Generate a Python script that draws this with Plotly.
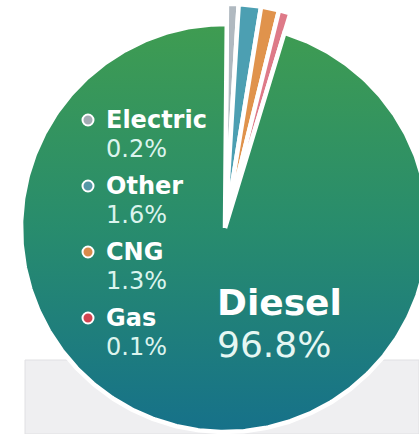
import numpy as np
import plotly.graph_objects as go

# ---- data ----
labels = ["Electric", "Other", "CNG", "Gas", "Diesel"]
values = [0.2, 1.6, 1.3, 0.1, 96.8]
slice_colors = ["#b0b9c0", "#4c9fb2", "#e0934c", "#de7a88"]
dot_colors = ["#a3abb3", "#5597a6", "#d98a4b", "#d24350"]
diesel_scale = [[0.0, "#16718a"], [0.5, "#288c6d"], [1.0, "#3f9c51"]]

# ---- layout constants (pixels) ----
W, H = 419, 434
CX, CY, R = 225, 228, 204      # centre and radius of the main slice
R_SMALL = 1.10                 # radius of the small slices (relative)
START_DEG = 0.5
MIN_DEG = 3.0
FONT = "DejaVu Sans"


def ux(px):
    return (px - CX) / R


def uy(py):
    return (CY - py) / R


vals = np.array(values, dtype=float)
deg = vals / vals.sum() * 360.0
disp = np.maximum(deg[:-1], MIN_DEG)
disp_all = np.append(disp, 360.0 - disp.sum())
edges = START_DEG + np.concatenate([[0.0], np.cumsum(disp_all)])

fig = go.Figure()

for i, lab in enumerate(labels):
    a0, a1 = edges[i], edges[i + 1]
    n = max(int((a1 - a0) * 2) + 2, 6)
    t = np.radians(np.linspace(a0, a1, n))
    is_main = lab == "Diesel"
    r = 1.0 if is_main else R_SMALL
    xs = np.concatenate([[0.0], r * np.sin(t), [0.0]])
    ys = np.concatenate([[0.0], r * np.cos(t), [0.0]])
    kw = dict(x=xs, y=ys, mode="lines", fill="toself",
              line=dict(color="white", width=4.5),
              hoverinfo="text", text=f"{lab} {values[i]:.1f}%", name=lab)
    if is_main:
        kw["fillgradient"] = dict(type="vertical", colorscale=diesel_scale,
                                  start=-1.0, stop=1.0)
    else:
        kw["fillcolor"] = slice_colors[i]
    fig.add_trace(go.Scatter(**kw))

# legend-like labels on the left
LX, DOT_X = 104, 88
Y0, STEP, SUB = 120, 66, 29
dot_y = [Y0 + k * STEP for k in range(4)]
fig.add_trace(go.Scatter(
    x=[ux(DOT_X)] * 4, y=[uy(v) for v in dot_y], mode="markers",
    marker=dict(size=11, color=dot_colors, line=dict(color="white", width=2)),
    hoverinfo="skip"))

annotations = []
for k in range(4):
    annotations.append(dict(
        x=LX / W, y=(H - dot_y[k]) / H, xref="paper", yref="paper",
        xanchor="left", yanchor="middle", showarrow=False,
        text=f"<b>{labels[k]}</b>",
        font=dict(family=FONT, size=24, color="white")))
    annotations.append(dict(
        x=LX / W, y=(H - dot_y[k] - SUB) / H, xref="paper", yref="paper",
        xanchor="left", yanchor="middle", showarrow=False,
        text=f"{values[k]:.1f}%",
        font=dict(family=FONT, size=24, color="#dcf4ee")))

annotations.append(dict(
    x=215 / W, y=(H - 302) / H, xref="paper", yref="paper",
    xanchor="left", yanchor="middle", showarrow=False,
    text=f"<b>{labels[4]}</b>",
    font=dict(family=FONT, size=36, color="white")))
annotations.append(dict(
    x=215 / W, y=(H - 344) / H, xref="paper", yref="paper",
    xanchor="left", yanchor="middle", showarrow=False,
    text=f"{values[4]:.1f}%",
    font=dict(family=FONT, size=36, color="#e6f7f3")))

fig.update_layout(
    width=W, height=H,
    margin=dict(l=0, r=0, t=0, b=0),
    paper_bgcolor="white", plot_bgcolor="rgba(0,0,0,0)",
    showlegend=False,
    xaxis=dict(range=[ux(0), ux(W)], visible=False, fixedrange=True),
    yaxis=dict(range=[uy(H), uy(0)], visible=False, fixedrange=True),
    annotations=annotations,
    shapes=[dict(type="rect", xref="paper", yref="paper",
                 x0=25 / W, x1=1, y0=0, y1=(H - 360) / H,
                 fillcolor="#efeff1", line=dict(color="#e0e0e3", width=1),
                 layer="below")],
)

fig.write_html(
    "out.html",
    config={"displayModeBar": False},
    post_script="document.body.style.margin='0';document.body.style.overflow='hidden';",
)
